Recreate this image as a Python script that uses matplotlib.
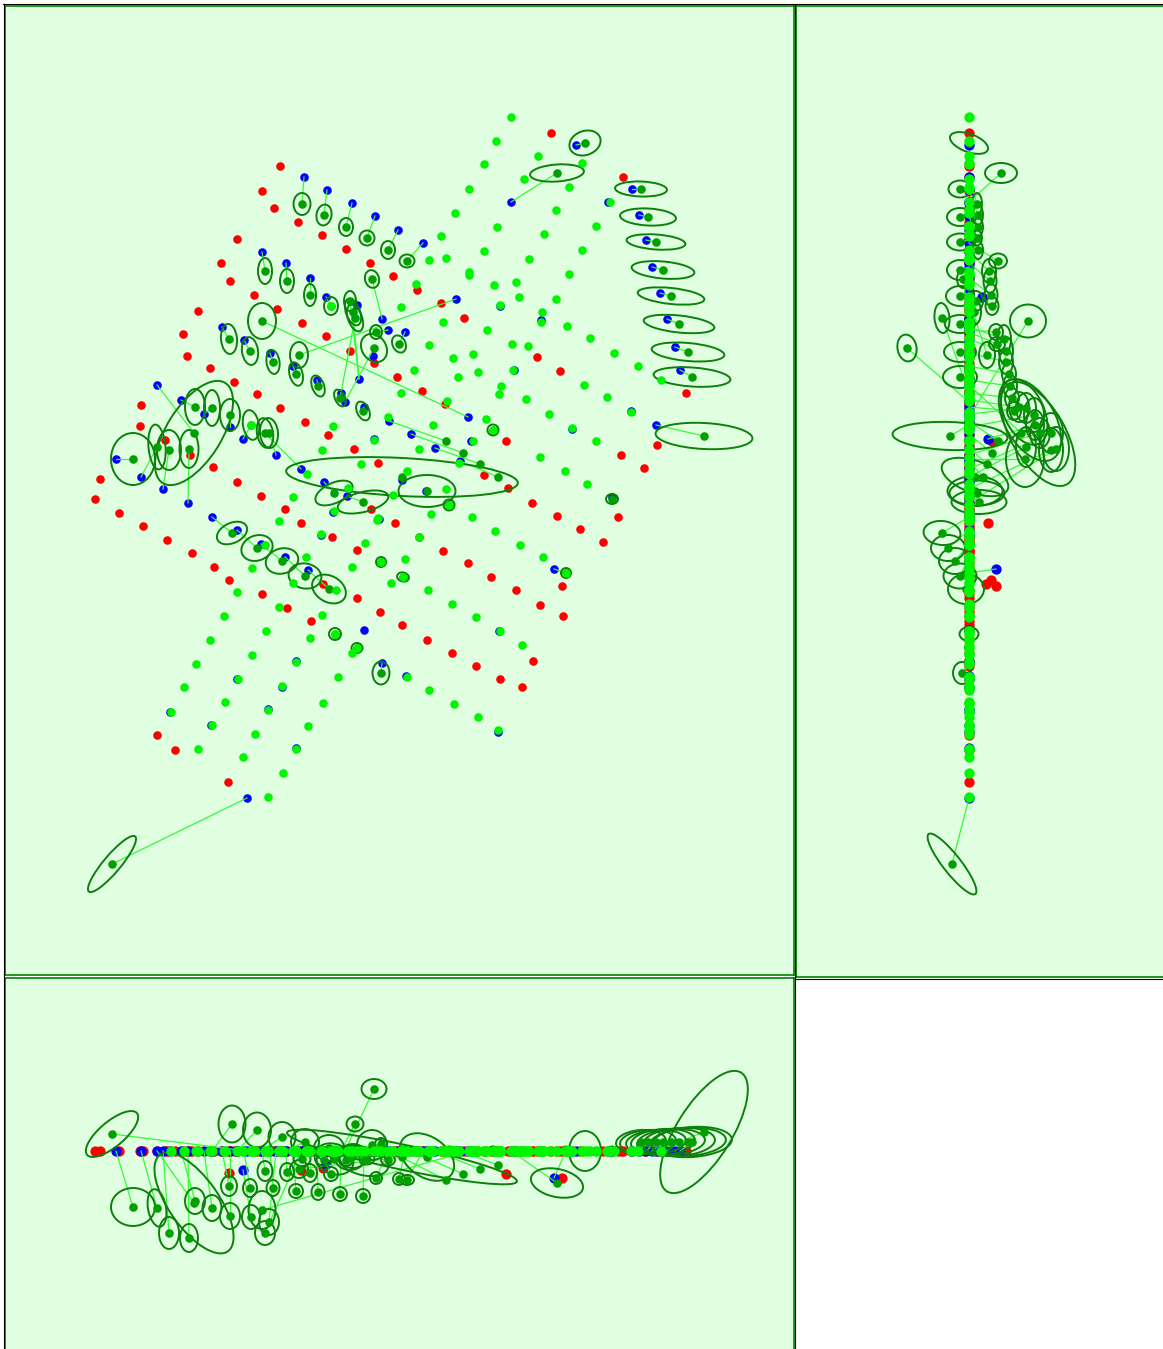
import matplotlib
matplotlib.use("Agg")
import matplotlib.pyplot as plt
from matplotlib.patches import Ellipse
from matplotlib.lines import Line2D

W = 1163
H = 1349

# points lying on the plane z=0
red_x = [280,262,274,298,322,346,370,393,417,441,464,237,221,230,254,277,302,326,350,374,397,422,445,
         198,183,187,210,234,257,280,305,328,354,378,141,140,165,190,213,237,261,285,371,100,95,119,
         551,623,537,560,686,621,644,657,484,508,532,557,580,603,618,395,419,443,468,491,516,540,563,
         402,427,452,476,500,533,380,143,167,192,214,287,311,357,332,357,262,157,175,228,522]
red_y = [166,191,208,222,235,249,263,276,290,303,318,239,263,281,295,309,323,336,351,363,377,391,404,
         311,334,356,368,382,394,408,422,435,449,463,405,426,440,455,467,482,496,509,509,479,499,513,
         133,177,357,371,393,455,468,445,475,488,503,516,529,542,517,523,537,551,563,577,590,605,616,
         625,640,653,666,679,661,612,526,540,553,567,608,621,598,537,550,594,735,750,782,687]

blue_x = [304,327,352,375,398,423,262,286,310,357,382,388,405,456,222,244,270,293,317,373,359,341,345,364,468,
          157,181,204,230,276,301,116,141,163,188,212,389,411,435,460,324,347,426,576,511,632,639,646,652,660,
          667,675,680,656,237,261,285,308,247,382,402,612,500,541,514,608,631,572,471,499,406,498,379,321,333,
          296,237,282,170,211,268,296,364,374]
blue_y = [177,190,203,216,230,243,252,263,278,305,319,330,332,299,327,340,353,366,380,356,379,393,402,407,417,
          385,400,414,427,455,469,459,477,489,503,517,421,434,448,461,482,496,491,145,202,189,215,240,267,293,
          319,347,370,425,530,544,557,570,798,663,480,497,306,320,370,202,411,429,441,631,676,732,519,535,512,
          661,679,687,712,725,709,748,630,439]

lime_x = [511,496,538,484,582,524,569,469,610,556,497,596,544,484,582,529,469,469,569,494,516,519,556,500,
          542,541,567,487,590,512,528,473,614,638,478,513,661,584,501,499,526,607,455,441,446,429,416,401,
          443,429,453,414,458,401,447,388,433,473,333,374,322,419,361,459,407,307,251,331,348,393,446,334,
          293,431,449,279,378,472,549,631,572,596,540,565,587,493,486,495,520,543,566,419,405,391,428,452,
          476,500,522,403,381,407,321,365,377,252,265,306,352,293,336,237,279,322,224,266,310,335,357,352,
          210,252,296,196,238,282,338,184,225,268,323,171,212,255,308,198,296,243,283,268,429,454,478,498]
lime_y = [117,141,156,164,163,179,187,189,202,210,227,226,234,251,250,259,272,275,274,285,282,297,299,305,
          312,322,326,330,338,344,346,354,353,366,372,370,380,385,386,394,399,397,213,236,258,260,284,307,
          322,345,358,370,377,393,401,417,425,441,426,440,450,449,464,463,471,474,425,306,488,495,489,511,
          497,514,505,521,518,517,414,412,428,441,457,471,484,430,419,531,545,557,573,537,559,583,590,604,
          617,631,645,577,562,677,534,543,520,568,545,557,567,583,590,592,607,615,616,631,638,634,648,653,
          640,655,662,664,679,686,677,687,702,710,703,712,725,734,726,749,749,757,773,797,690,704,717,730]

# points that stand off the plane
red_off_x = [229,301,323,562,506]
red_off_y = [580,523,584,586,441]
red_off_z = [22,19,17,27,23]
blue_off_x = [243,326,554]
blue_off_y = [439,297,569]
blue_off_z = [19,13,27]

# fitted blobs: centre, the point each one is tied to, outline (w, h, angle) in the three views
blob_pos = [(302,204,8),(324,215,9),(346,227,9),(367,238,8),(388,250,9),(407,261,29),
            (265,271,20),(287,281,21),(310,295,22),(331,306,23),(350,301,7),(355,318,-27),(353,312,5),
            (372,279,-6),(376,332,27),(399,344,28),(374,348,-62),(299,355,18),(262,321,59),
            (229,339,35),(250,351,37),(273,362,37),(296,374,40),(318,386,41),(340,398,43),(363,411,45),
            (195,407,50),(212,408,57),(230,415,65),(251,425,66),(269,433,71),(265,433,82),(194,433,52),
            (157,447,57),(169,450,82),(189,449,87),(133,459,56),
            (446,441,29),(463,453,23),(480,464,18),(498,477,14),
            (402,477,6),(427,491,6),(334,493,8),(363,502,10),
            (585,143,0),(557,173,32),
            (641,189,-9),(648,217,-9),(656,242,-9),(663,270,-9),(671,296,-9),(679,324,-9),(688,352,-9),(692,377,-9),
            (704,436,-19),(232,533,-27),(257,548,-21),(282,561,-14),(305,576,-9),(329,589,-3),
            (112,864,-17),(381,673,-7),
            (449,505,0),(493,430,0),(566,573,0),(612,499,0),(403,577,0),(381,562,0),(335,634,0),(357,648,0)]
blob_link = [(304,177,0),(327,190,0),(352,203,0),(375,216,0),(398,230,0),(423,243,0),
             (262,252,0),(286,263,0),(310,278,0),(326,297,13),(359,379,0),(341,393,0),(359,379,0),
             (382,319,0),(388,330,0),(405,332,0),(345,402,0),(456,299,0),(468,417,0),
             (222,327,0),(244,340,0),(270,353,0),(293,366,0),(317,380,0),(341,393,0),(364,407,0),
             (181,400,0),(204,414,0),(230,427,0),(243,439,19),(276,455,0),(301,469,0),(157,385,0),
             (141,477,0),(163,489,0),(188,503,0),(116,459,0),
             (389,421,0),(411,434,0),(435,448,0),(460,461,0),
             (402,480,0),(426,491,0),(324,482,0),(347,496,0),
             (576,145,0),(511,202,0),
             (632,189,0),(639,215,0),(646,240,0),(652,267,0),(660,293,0),(667,319,0),(675,347,0),(680,370,0),
             (656,425,0),(212,517,0),(237,530,0),(261,544,0),(285,557,0),(308,570,0),
             (247,798,0),(382,663,0),
             (449,505,0),(493,430,0),(554,569,27),(612,497,0),(403,577,0),(381,562,0),(335,634,0),(357,648,0)]
shape_xy = [(22,17,90),(21,15,100),(18,14,90),(15,15,0),(18,14,90),(15,13,0),
            (26,14,90),(24,14,90),(22,12,90),(18,14,90),(20,12,90),(28,14,70),(28,14,70),
            (18,14,75),(14,12,90),(18,13,65),(30,24,55),(26,18,90),(36,28,90),
            (30,16,85),(28,16,82),(24,13,82),(24,13,75),(22,12,70),(18,10,65),(20,12,65),
            (36,20,90),(36,16,90),(32,20,90),(30,16,80),(30,18,85),(30,16,80),(118,55,-58),
            (45,17,85),(40,24,90),(38,19,90),(52,44,90),
            None,None,None,None,
            (232,38,3),(57,32,0),(40,20,-25),(52,20,-14),
            (32,24,-20),(54,17,-4),
            (52,15,2),(56,17,3),(59,15,4),(63,17,5),(67,16,6),(71,17,6),(73,18,5),(77,19,4),
            (97,26,3),(32,20,-25),(32,25,-20),(33,25,-15),(33,25,10),(36,26,30),
            (72,17,-50),(23,17,90),
            (11,11,0),(11,11,0),(10,10,0),(12,10,0),(12,9,15),(10,10,0),(12,12,0),(11,10,0)]
shape_zy = [(22,10,90),(20,10,90),(18,10,90),(15,10,90),(18,10,90),(18,15,0),
            (24,14,90),(24,13,90),(22,13,90),(18,13,90),(20,14,90),(30,15,85),(26,14,90),
            (18,12,90),(16,14,90),(16,14,0),(27,19,80),(26,16,90),(36,33,0),
            (28,14,90),(28,14,90),(24,14,90),(22,14,90),(22,14,90),(20,14,90),(18,14,90),
            (30,20,90),(30,20,90),(34,20,90),(30,18,90),(30,20,90),(40,24,90),None,
            (40,20,90),(44,24,90),(44,26,90),(56,38,90),
            None,None,None,None,
            (70,32,20),(55,30,0),(55,25,0),(55,24,0),
            (40,18,20),(32,20,0),
            (23,17,0),(26,18,0),(26,17,0),(26,20,0),(28,20,0),(30,18,0),(32,20,0),(34,22,0),
            (115,28,2),(37,24,5),(34,26,0),(32,26,0),(33,25,0),(36,30,0),
            (76,18,52),(22,18,90),
            (8,8,0),(8,8,0),(8,8,0),(8,8,0),(8,8,0),(8,8,0),(19,14,0),(8,8,0)]
shape_xz = [(17,14,0),(15,12,0),(14,12,0),(15,11,0),(14,11,0),(14,10,0),
            (20,15,90),(18,14,90),(18,14,90),(14,14,0),(30,24,0),(17,15,0),(28,24,0),
            (30,30,0),(12,12,0),(12,12,0),(25,20,0),(18,18,0),(38,27,90),
            (20,16,90),(18,14,90),(16,13,90),(14,14,0),(16,13,90),(14,14,0),(14,14,0),
            (26,20,90),(26,19,90),(26,20,90),(24,18,90),(26,20,90),(24,20,90),(118,50,55),
            (38,18,80),(32,20,90),(28,18,90),(44,38,0),
            None,None,None,None,
            (235,25,12),(60,40,35),(40,30,20),(52,28,15),
            (40,32,90),(53,28,12),
            (50,24,-4),(56,24,-4),(60,24,-4),(64,26,-4),(68,26,-4),(72,28,-4),(76,28,-4),(80,30,-4),
            (140,55,-58),(37,27,90),(35,28,90),(30,27,90),(28,26,0),(30,26,0),
            (65,25,-40),(12,12,0),
            (10,9,0),(10,9,0),(10,9,0),(10,9,0),(10,9,0),(10,9,0),(10,9,0),(10,9,0)]

# the big side-view outlines sit off their centres
side_extra = [(69,434,116,54,60),(61,420,90,50,60),(55,412,70,40,65)]

BG = "#e0ffe0"
RED = "#ff0000"
BLUE = "#0000ff"
LIME = "#00f500"
DOT = "#00a000"
EDGE = "#0c800c"
LINK = "#38f838"


def panel(left, top, right, bottom, xlim, ylim, open_sides=()):
    ax = fig.add_axes([left / W, 1 - bottom / H, (right - left) / W, (bottom - top) / H])
    ax.set_facecolor(BG)
    ax.set_xlim(xlim)
    ax.set_ylim(ylim)
    ax.set_xticks([])
    ax.set_yticks([])
    for s in ax.spines.values():
        s.set_color("#008000")
        s.set_linewidth(1.2)
    for name in open_sides:
        ax.spines[name].set_visible(False)
    return ax


def draw(ax, view, size):
    # view picks which two of x, y, z are shown
    def uv(p):
        if view == "xy":
            return p[0], p[1]
        if view == "zy":
            return p[2], p[1]
        return p[0], p[2]

    def pts(xs, ys, zs=None):
        if zs is None:
            zs = [0] * len(xs)
        return [uv(p) for p in zip(xs, ys, zs)]

    shapes = {"xy": shape_xy, "zy": shape_zy, "xz": shape_xz}[view]

    r = pts(red_x, red_y) + pts(red_off_x, red_off_y, red_off_z)
    b = pts(blue_x, blue_y) + pts(blue_off_x, blue_off_y, blue_off_z)
    l = pts(lime_x, lime_y)
    ax.scatter([p[0] for p in r], [p[1] for p in r], s=size, c=RED, linewidths=0, zorder=2)
    ax.scatter([p[0] for p in b], [p[1] for p in b], s=size, c=BLUE, linewidths=0, zorder=3)

    for i in range(len(blob_pos)):
        u, v = uv(blob_pos[i])
        lu, lv = uv(blob_link[i])
        ax.plot([u, lu], [v, lv], color=LINK, lw=0.9, zorder=4)
        if shapes[i] is not None:
            w, h, a = shapes[i]
            ax.add_patch(Ellipse((u, v), w, h, angle=a, fill=False, edgecolor=EDGE, lw=1.4, zorder=5))
    if view == "zy":
        for z, y, w, h, a in side_extra:
            ax.add_patch(Ellipse((z, y), w, h, angle=a, fill=False, edgecolor=EDGE, lw=1.4, zorder=5))

    d = [uv(p) for p in blob_pos]
    ax.scatter([p[0] for p in d], [p[1] for p in d], s=38, c=DOT, linewidths=0, zorder=6)
    ax.scatter([p[0] for p in l], [p[1] for p in l], s=size, c=LIME, linewidths=0, zorder=7)


fig = plt.figure(figsize=(W / 100, H / 100), dpi=100, facecolor="white")

ax_main = panel(5, 6, 794, 975, (5, 794), (975, 6))
ax_side = panel(796, 6, 1163, 977, (796 - 969, 1163 - 969), (977, 6), open_sides=("right",))
ax_low = panel(5, 978, 794, 1349, (5, 794), (1349 - 1151, 978 - 1151), open_sides=("bottom",))

draw(ax_main, "xy", 38)
draw(ax_side, "zy", 55)
draw(ax_low, "xz", 55)

# black rules outside the panels
for x0, y0, x1, y1 in [(3, 4, 1163, 4), (3.5, 4, 3.5, 1349), (795, 4, 795, 1349), (795, 978.5, 1163, 978.5)]:
    fig.add_artist(Line2D([x0 / W, x1 / W], [1 - y0 / H, 1 - y1 / H], color="black", lw=0.8))

fig.savefig("out.png", dpi=100)
